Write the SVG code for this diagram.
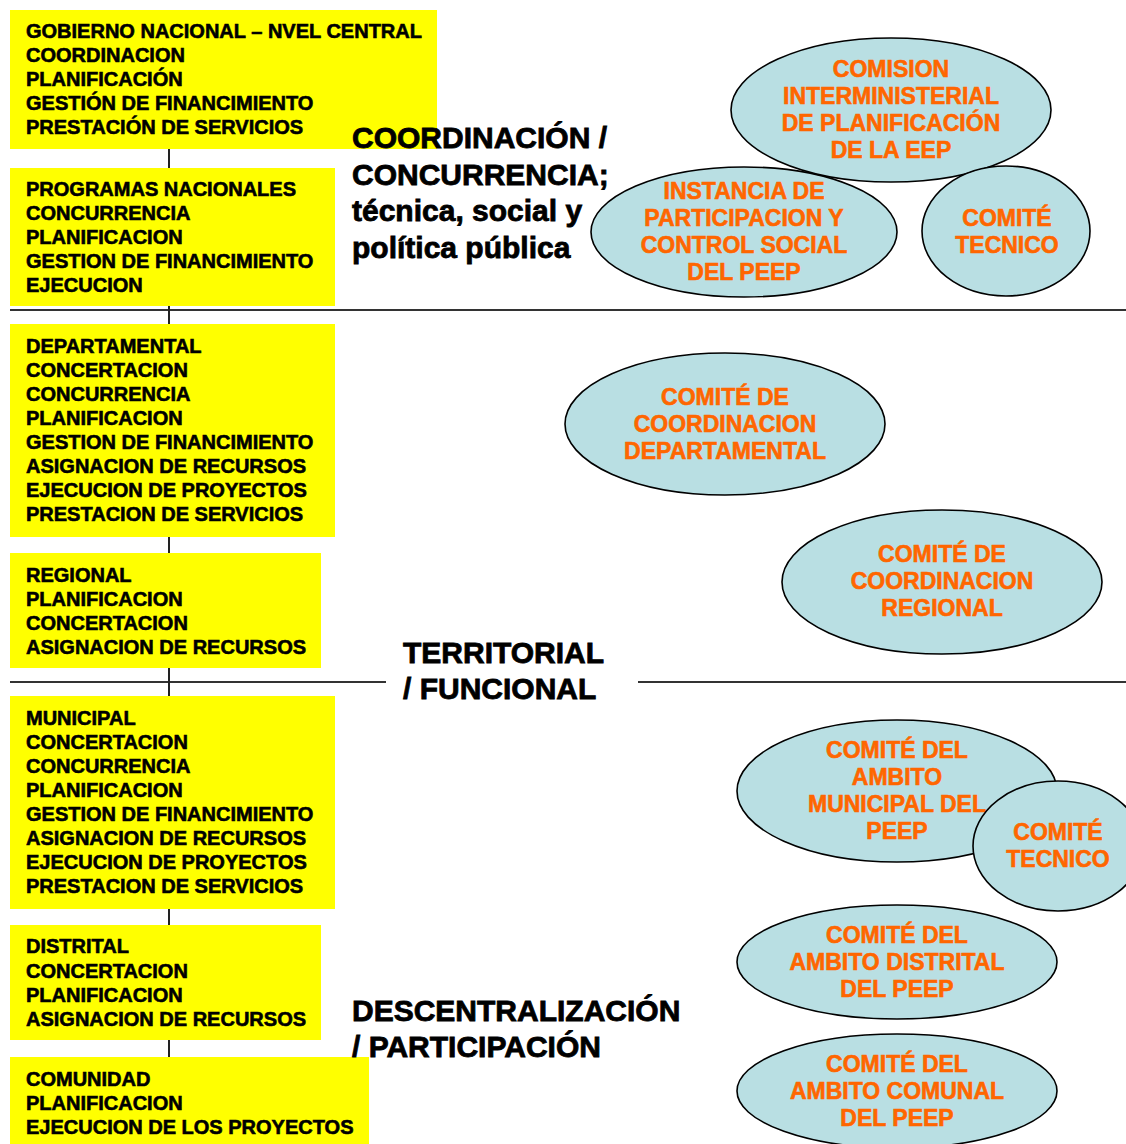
<svg xmlns="http://www.w3.org/2000/svg" width="1126" height="1144" viewBox="0 0 1126 1144">
  <style>
    .box { fill: #ffff00; }
    .bt { font-family: "Liberation Sans", Arial, sans-serif; font-weight: bold; font-size: 20px; fill: #000; stroke: #000; stroke-width: 0.6; }
    .ell { fill: #b9dfe3; stroke: #000; stroke-width: 1.6; }
    .et { font-family: "Liberation Sans", Arial, sans-serif; font-weight: bold; font-size: 23px; fill: #ff6600; stroke: #ff6600; stroke-width: 0.6; text-anchor: middle; }
    .big { font-family: "Liberation Sans", Arial, sans-serif; font-weight: bold; font-size: 30px; fill: #000; stroke: #000; stroke-width: 0.8; }
    .link { stroke: #222; stroke-width: 2; fill: none; }
    .rule { stroke: #333; stroke-width: 2; fill: none; }
  </style>
  <rect width="1126" height="1144" fill="#fff"/>

  <!-- level dividers -->
  <g id="dividers">
    <line class="rule" x1="10" y1="310" x2="1126" y2="310"/>
    <line class="rule" x1="10" y1="682" x2="386" y2="682"/>
    <line class="rule" x1="638" y1="682" x2="1126" y2="682"/>
  </g>

  <!-- vertical chain linking the government levels -->
  <g id="connectors">
    <line class="link" x1="169" y1="149" x2="169" y2="168"/>
    <line class="link" x1="169" y1="306" x2="169" y2="324"/>
    <line class="link" x1="169" y1="537" x2="169" y2="553"/>
    <line class="link" x1="169" y1="668" x2="169" y2="696"/>
    <line class="link" x1="169" y1="909" x2="169" y2="925"/>
    <line class="link" x1="169" y1="1040" x2="169" y2="1057"/>
  </g>

  <g id="nivel-central">
    <rect class="box" x="10" y="10" width="427" height="139"/>
    <text class="bt" x="26" y="38">GOBIERNO NACIONAL – NVEL CENTRAL</text>
    <text class="bt" x="26" y="62">COORDINACION</text>
    <text class="bt" x="26" y="86">PLANIFICACIÓN</text>
    <text class="bt" x="26" y="110">GESTIÓN DE FINANCIMIENTO</text>
    <text class="bt" x="26" y="134">PRESTACIÓN DE SERVICIOS</text>
  </g>

  <g id="programas-nacionales">
    <rect class="box" x="10" y="168" width="325" height="138"/>
    <text class="bt" x="26" y="196">PROGRAMAS NACIONALES</text>
    <text class="bt" x="26" y="220">CONCURRENCIA</text>
    <text class="bt" x="26" y="244">PLANIFICACION</text>
    <text class="bt" x="26" y="268">GESTION DE FINANCIMIENTO</text>
    <text class="bt" x="26" y="292">EJECUCION</text>
  </g>

  <g id="departamental">
    <rect class="box" x="10" y="324" width="325" height="213"/>
    <text class="bt" x="26" y="353">DEPARTAMENTAL</text>
    <text class="bt" x="26" y="377">CONCERTACION</text>
    <text class="bt" x="26" y="401">CONCURRENCIA</text>
    <text class="bt" x="26" y="425">PLANIFICACION</text>
    <text class="bt" x="26" y="449">GESTION DE FINANCIMIENTO</text>
    <text class="bt" x="26" y="473">ASIGNACION DE RECURSOS</text>
    <text class="bt" x="26" y="497">EJECUCION DE PROYECTOS</text>
    <text class="bt" x="26" y="521">PRESTACION DE SERVICIOS</text>
  </g>

  <g id="regional">
    <rect class="box" x="10" y="553" width="311" height="115"/>
    <text class="bt" x="26" y="582">REGIONAL</text>
    <text class="bt" x="26" y="606">PLANIFICACION</text>
    <text class="bt" x="26" y="630">CONCERTACION</text>
    <text class="bt" x="26" y="654">ASIGNACION DE RECURSOS</text>
  </g>

  <g id="municipal">
    <rect class="box" x="10" y="696" width="325" height="213"/>
    <text class="bt" x="26" y="725">MUNICIPAL</text>
    <text class="bt" x="26" y="749">CONCERTACION</text>
    <text class="bt" x="26" y="773">CONCURRENCIA</text>
    <text class="bt" x="26" y="797">PLANIFICACION</text>
    <text class="bt" x="26" y="821">GESTION DE FINANCIMIENTO</text>
    <text class="bt" x="26" y="845">ASIGNACION DE RECURSOS</text>
    <text class="bt" x="26" y="869">EJECUCION DE PROYECTOS</text>
    <text class="bt" x="26" y="893">PRESTACION DE SERVICIOS</text>
  </g>

  <g id="distrital">
    <rect class="box" x="10" y="925" width="311" height="115"/>
    <text class="bt" x="26" y="953">DISTRITAL</text>
    <text class="bt" x="26" y="978">CONCERTACION</text>
    <text class="bt" x="26" y="1002">PLANIFICACION</text>
    <text class="bt" x="26" y="1026">ASIGNACION DE RECURSOS</text>
  </g>

  <g id="comunidad">
    <rect class="box" x="10" y="1057" width="359" height="87"/>
    <text class="bt" x="26" y="1086">COMUNIDAD</text>
    <text class="bt" x="26" y="1110">PLANIFICACION</text>
    <text class="bt" x="26" y="1134">EJECUCION DE LOS PROYECTOS</text>
  </g>

  <!-- committees -->
  <g id="instancia-participacion">
    <ellipse class="ell" cx="744" cy="232" rx="153" ry="65"/>
    <text class="et" x="744" y="199">INSTANCIA DE</text>
    <text class="et" x="744" y="226">PARTICIPACION Y</text>
    <text class="et" x="744" y="253">CONTROL SOCIAL</text>
    <text class="et" x="744" y="280">DEL PEEP</text>
  </g>

  <g id="comision-interministerial">
    <ellipse class="ell" cx="891" cy="110" rx="160" ry="72"/>
    <text class="et" x="891" y="77">COMISION</text>
    <text class="et" x="891" y="104">INTERMINISTERIAL</text>
    <text class="et" x="891" y="131">DE PLANIFICACIÓN</text>
    <text class="et" x="891" y="158">DE LA EEP</text>
  </g>

  <g id="comite-tecnico-nacional">
    <ellipse class="ell" cx="1006" cy="231" rx="84" ry="65"/>
    <text class="et" x="1007" y="226">COMITÉ</text>
    <text class="et" x="1007" y="253">TECNICO</text>
  </g>

  <g id="comite-departamental">
    <ellipse class="ell" cx="725" cy="424" rx="160" ry="71"/>
    <text class="et" x="725" y="405">COMITÉ DE</text>
    <text class="et" x="725" y="432">COORDINACION</text>
    <text class="et" x="725" y="459">DEPARTAMENTAL</text>
  </g>

  <g id="comite-regional">
    <ellipse class="ell" cx="942" cy="582" rx="160" ry="72"/>
    <text class="et" x="942" y="562">COMITÉ DE</text>
    <text class="et" x="942" y="589">COORDINACION</text>
    <text class="et" x="942" y="616">REGIONAL</text>
  </g>

  <g id="comite-municipal">
    <ellipse class="ell" cx="897" cy="791" rx="160" ry="71"/>
    <text class="et" x="897" y="758">COMITÉ DEL</text>
    <text class="et" x="897" y="785">AMBITO</text>
    <text class="et" x="897" y="812">MUNICIPAL DEL</text>
    <text class="et" x="897" y="839">PEEP</text>
  </g>

  <g id="comite-tecnico-municipal">
    <ellipse class="ell" cx="1058" cy="846" rx="85" ry="65"/>
    <text class="et" x="1058" y="840">COMITÉ</text>
    <text class="et" x="1058" y="867">TECNICO</text>
  </g>

  <g id="comite-distrital">
    <ellipse class="ell" cx="897" cy="962" rx="160" ry="57"/>
    <text class="et" x="897" y="943">COMITÉ DEL</text>
    <text class="et" x="897" y="970">AMBITO DISTRITAL</text>
    <text class="et" x="897" y="997">DEL PEEP</text>
  </g>

  <g id="comite-comunal">
    <ellipse class="ell" cx="897" cy="1091" rx="160" ry="57"/>
    <text class="et" x="897" y="1072">COMITÉ DEL</text>
    <text class="et" x="897" y="1099">AMBITO COMUNAL</text>
    <text class="et" x="897" y="1126">DEL PEEP</text>
  </g>

  <!-- axis labels -->
  <g id="eje-coordinacion">
    <text class="big" x="352" y="148">COORDINACIÓN /</text>
    <text class="big" x="352" y="185">CONCURRENCIA;</text>
    <text class="big" x="352" y="221">técnica, social y</text>
    <text class="big" x="352" y="258">política pública</text>
  </g>
  <g id="eje-territorial">
    <text class="big" x="403" y="663">TERRITORIAL</text>
    <text class="big" x="403" y="699">/ FUNCIONAL</text>
  </g>
  <g id="eje-descentralizacion">
    <text class="big" x="352" y="1021">DESCENTRALIZACIÓN</text>
    <text class="big" x="352" y="1057">/ PARTICIPACIÓN</text>
  </g>
</svg>
